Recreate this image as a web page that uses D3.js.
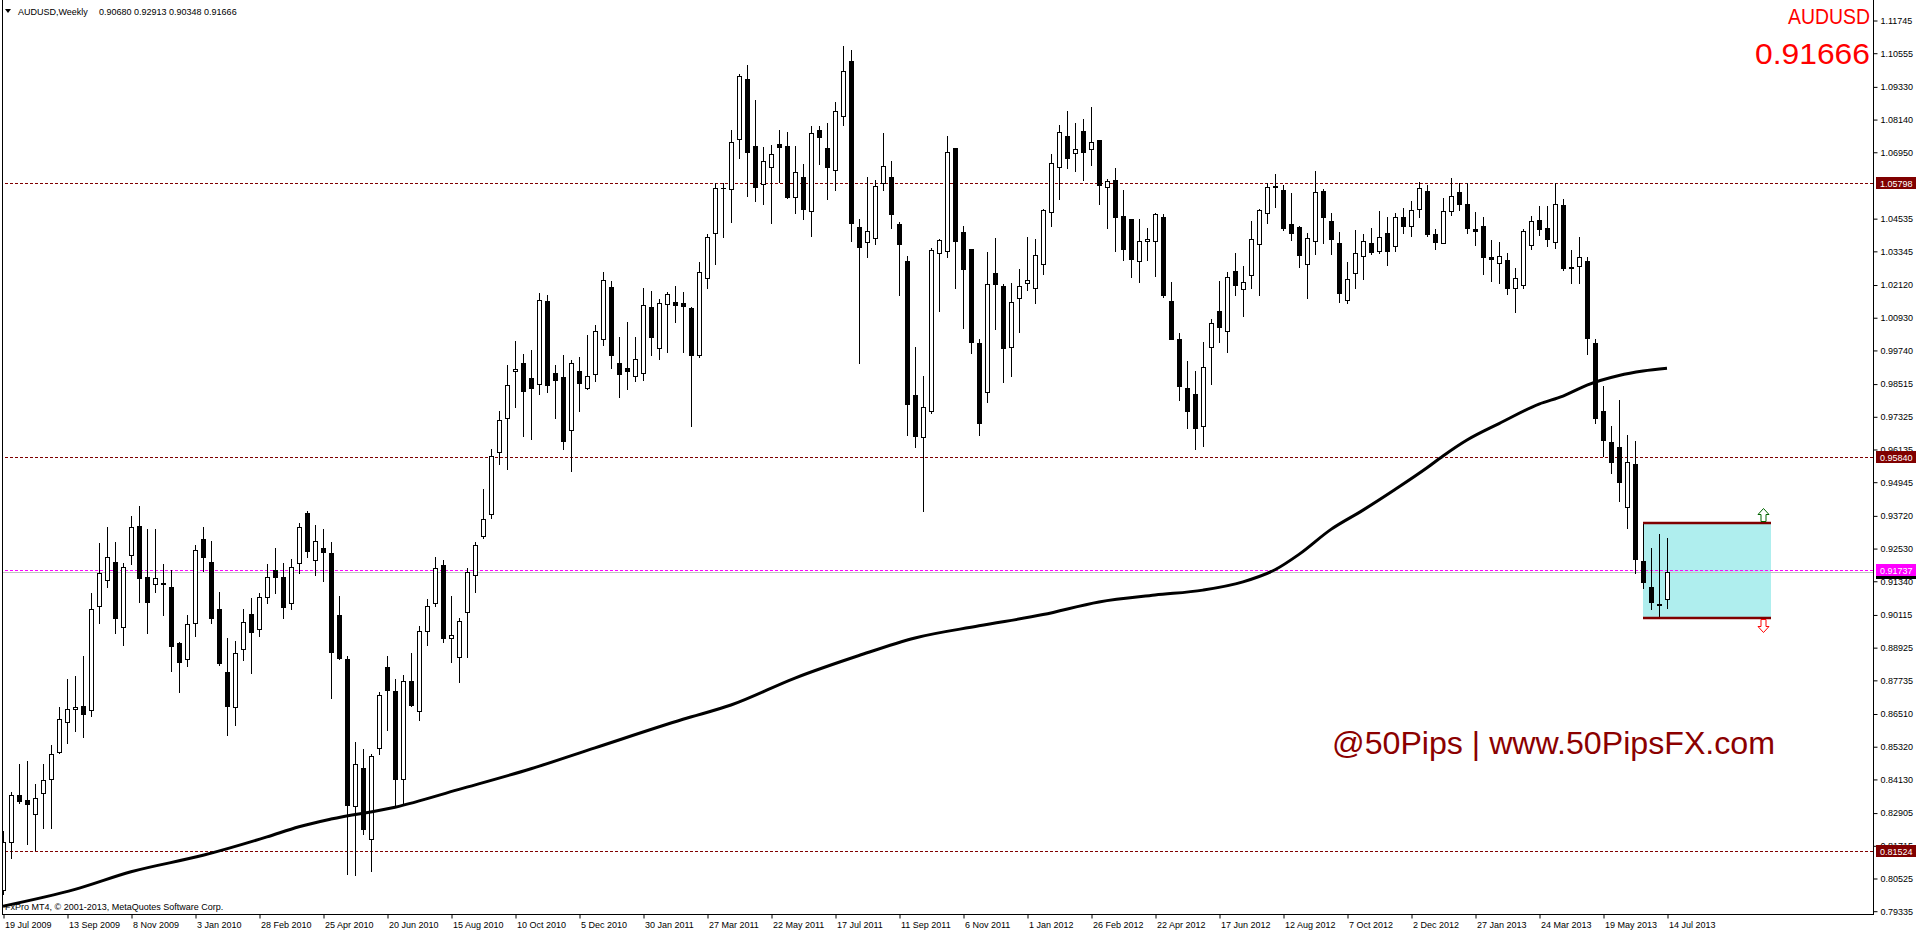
<!DOCTYPE html>
<html><head><meta charset="utf-8">
<script src="https://cdn.jsdelivr.net/npm/d3@7/dist/d3.min.js"></script>
<style>
html,body{margin:0;padding:0;background:#fff;overflow:hidden}
svg{display:block}
text{font-family:"Liberation Sans",Arial,sans-serif}
</style></head><body>
<svg id="c" width="1916" height="932"></svg>
<script>
// ---- DATA (weekly AUDUSD, 19 Jul 2009 .. 14 Jul 2013) ----
const open = [0.8010,0.8184,0.8354,0.8336,0.8284,0.8360,0.8411,0.8512,0.8619,0.8666,0.8680,0.8663,0.9042,0.9137,0.9204,0.8964,0.9226,0.9335,0.9146,0.9124,
0.9127,0.9110,0.8906,0.8848,0.8982,0.9285,0.9204,0.9033,0.8801,0.8673,0.8884,0.9012,0.8957,0.9076,0.9173,0.9149,0.9052,0.9197,0.9379,0.9210,
0.9255,0.9234,0.9009,0.8848,0.8315,0.8452,0.8195,0.8525,0.8820,0.8733,0.8413,0.8771,0.8659,0.8953,0.9052,0.9190,0.8927,0.8858,0.9019,0.9154,
0.9296,0.9377,0.9602,0.9727,0.9899,0.9926,0.9872,0.9851,1.0152,0.9891,0.9876,0.9682,0.9899,0.9836,0.9888,1.0014,1.0204,0.9925,0.9909,0.9880,
0.9891,1.0130,0.9981,1.0140,1.0149,1.0144,1.0126,0.9954,1.0234,1.0398,1.0565,1.0558,1.0740,1.0961,1.0715,1.0576,1.0638,1.0725,1.0715,1.0529,
1.0603,1.0478,1.0774,1.0707,1.0628,1.0827,1.1027,1.0420,1.0365,1.0380,1.0582,1.0603,1.0432,1.0298,0.9809,0.9657,0.9750,1.0325,1.0333,1.0707,
1.0402,1.0340,0.9998,0.9820,1.0253,1.0207,0.9986,1.0162,1.0219,1.0198,1.0285,1.0475,1.0638,1.0752,1.0689,1.0769,1.0704,1.0737,1.0566,1.0591,
1.0460,1.0450,1.0296,1.0369,1.0369,1.0458,1.0151,1.0012,0.9834,0.9812,0.9696,0.9983,1.0114,1.0042,1.0260,1.0194,1.0245,1.0358,1.0471,1.0572,
1.0555,1.0431,1.0421,1.0285,1.0369,1.0552,1.0443,1.0362,1.0154,1.0253,1.0314,1.0362,1.0335,1.0398,1.0351,1.0456,1.0424,1.0486,1.0551,1.0396,
1.0364,1.0478,1.0547,1.0504,1.0413,1.0424,1.0311,1.0289,1.0300,1.0198,1.0211,1.0355,1.0445,1.0418,1.0365,1.0500,1.0276,1.0278,1.0297,0.9998,
0.9753,0.9638,0.9619,0.9401,0.9559,0.9206,0.9110,0.9048,0.90680];
const high = [0.8223,0.8366,0.8469,0.8478,0.8394,0.8469,0.8536,0.8673,0.8775,0.8787,0.8860,0.9088,0.9270,0.9328,0.9275,0.9197,0.9369,0.9406,0.9321,0.9321,
0.9194,0.9173,0.8910,0.9009,0.9264,0.9328,0.9279,0.9092,0.8924,0.8916,0.9033,0.9070,0.9091,0.9195,0.9252,0.9197,0.9215,0.9343,0.9389,0.9337,
0.9321,0.9276,0.9078,0.8860,0.8548,0.8521,0.8505,0.8728,0.8860,0.8775,0.8791,0.8871,0.8970,0.9067,0.9220,0.9208,0.9078,0.8998,0.9180,0.9274,
0.9469,0.9615,0.9750,0.9918,1.0006,0.9960,0.9975,1.0182,1.0175,0.9918,0.9957,0.9937,0.9949,1.0029,1.0063,1.0259,1.0225,1.0021,1.0075,1.0021,
1.0201,1.0190,1.0159,1.0186,1.0205,1.0184,1.0130,1.0293,1.0396,1.0580,1.0580,1.0774,1.0977,1.1010,1.0885,1.0711,1.0719,1.0774,1.0766,1.0715,
1.0650,1.0788,1.0788,1.0800,1.0875,1.1079,1.1064,1.0449,1.0604,1.0592,1.0763,1.0662,1.0440,1.0316,0.9986,0.9880,1.0344,1.0379,1.0752,1.0707,
1.0425,1.0340,1.0014,1.0330,1.0380,1.0213,1.0219,1.0268,1.0386,1.0376,1.0488,1.0687,1.0792,1.0843,1.0800,1.0814,1.0858,1.0737,1.0596,1.0635,
1.0556,1.0450,1.0450,1.0418,1.0471,1.0467,1.0221,1.0036,0.9934,0.9897,1.0002,1.0088,1.0225,1.0258,1.0325,1.0279,1.0443,1.0487,1.0580,1.0614,
1.0574,1.0544,1.0425,1.0398,1.0625,1.0558,1.0471,1.0403,1.0294,1.0410,1.0395,1.0416,1.0479,1.0456,1.0471,1.0489,1.0516,1.0584,1.0574,1.0413,
1.0525,1.0600,1.0580,1.0580,1.0476,1.0456,1.0374,1.0365,1.0325,1.0271,1.0414,1.0461,1.0498,1.0498,1.0580,1.0523,1.0337,1.0384,1.0311,1.0012,
0.9843,0.9698,0.9792,0.9664,0.9642,0.9343,0.9252,0.9303,0.92913];
const low = [0.7995,0.8124,0.8324,0.8178,0.8154,0.8235,0.8235,0.8508,0.8542,0.8588,0.8566,0.8643,0.8981,0.9110,0.8943,0.8902,0.9194,0.9058,0.8945,0.9094,
0.9009,0.8807,0.8730,0.8825,0.8934,0.9170,0.8981,0.8827,0.8572,0.8609,0.8846,0.8799,0.8934,0.9054,0.9091,0.9000,0.9030,0.9163,0.9222,0.9155,
0.9134,0.8706,0.8848,0.8068,0.8065,0.8211,0.8077,0.8502,0.8590,0.8314,0.8318,0.8679,0.8628,0.8901,0.9042,0.8912,0.8840,0.8766,0.8858,0.9093,
0.9288,0.9362,0.9558,0.9541,0.9765,0.9661,0.9650,0.9814,0.9822,0.9725,0.9612,0.9535,0.9753,0.9830,0.9860,0.9991,0.9909,0.9803,0.9833,0.9860,
0.9863,0.9957,0.9940,0.9966,1.0075,0.9968,0.9699,0.9950,1.0201,1.0285,1.0386,1.0440,1.0674,1.0535,1.0517,1.0504,1.0437,1.0586,1.0525,1.0473,
1.0451,1.0390,1.0652,1.0524,1.0557,1.0794,1.0372,0.9926,1.0313,1.0359,1.0557,1.0418,1.0174,0.9665,0.9620,0.9387,0.9746,1.0117,1.0311,1.0201,
1.0052,0.9962,0.9663,0.9786,1.0049,0.9858,0.9880,1.0040,1.0192,1.0143,1.0251,1.0426,1.0524,1.0637,1.0626,1.0592,1.0647,1.0506,1.0419,1.0335,
1.0303,1.0240,1.0222,1.0301,1.0244,1.0168,1.0015,0.9793,0.9689,0.9612,0.9625,0.9849,1.0004,0.9968,1.0175,1.0099,1.0200,1.0175,1.0435,1.0495,
1.0409,1.0373,1.0274,1.0164,1.0322,1.0364,1.0324,1.0150,1.0146,1.0200,1.0233,1.0323,1.0328,1.0284,1.0335,1.0401,1.0390,1.0459,1.0390,1.0342,
1.0362,1.0466,1.0484,1.0401,1.0357,1.0251,1.0226,1.0219,1.0179,1.0113,1.0199,1.0342,1.0392,1.0353,1.0346,1.0265,1.0219,1.0219,0.9958,0.9709,
0.9589,0.9525,0.9425,0.9325,0.9161,0.9109,0.9031,0.8997,0.90348];
const close = [0.8184,0.8354,0.8334,0.8321,0.8342,0.8408,0.8502,0.8630,0.8668,0.8673,0.8648,0.9033,0.9161,0.9219,0.8997,0.9185,0.9328,0.9143,0.9058,0.9143,
0.9124,0.8898,0.8837,0.8975,0.9245,0.9222,0.9000,0.8833,0.8679,0.8872,0.8985,0.8949,0.9074,0.9149,0.9149,0.9037,0.9185,0.9328,0.9243,0.9279,
0.9240,0.8876,0.8852,0.8318,0.8469,0.8229,0.8498,0.8717,0.8737,0.8413,0.8771,0.8683,0.8953,0.9044,0.9179,0.8924,0.8936,0.8986,0.9165,0.9265,
0.9357,0.9589,0.9719,0.9848,0.9906,0.9825,0.9834,1.0156,0.9845,0.9865,0.9642,0.9926,0.9854,0.9879,1.0043,1.0229,0.9957,0.9888,0.9899,0.9940,
1.0136,1.0021,1.0144,1.0178,1.0136,1.0135,0.9954,1.0257,1.0384,1.0565,1.0562,1.0729,1.0970,1.0695,1.0568,1.0660,1.0686,1.0713,1.0531,1.0620,
1.0485,1.0765,1.0749,1.0638,1.0845,1.0990,1.0437,1.0350,1.0405,1.0570,1.0642,1.0467,1.0358,0.9777,0.9659,0.9766,1.0336,1.0373,1.0696,1.0371,
1.0270,1.0004,0.9708,1.0213,1.0213,0.9980,1.0147,1.0205,1.0227,1.0318,1.0483,1.0653,1.0766,1.0671,1.0704,1.0693,1.0729,1.0573,1.0587,1.0456,
1.0342,1.0306,1.0369,1.0376,1.0467,1.0175,1.0015,0.9841,0.9753,0.9691,0.9911,1.0071,1.0059,1.0238,1.0209,1.0222,1.0376,1.0482,1.0566,1.0568,
1.0416,1.0398,1.0318,1.0380,1.0547,1.0456,1.0376,1.0182,1.0231,1.0325,1.0369,1.0331,1.0384,1.0335,1.0456,1.0424,1.0482,1.0562,1.0396,1.0368,
1.0478,1.0533,1.0506,1.0419,1.0405,1.0313,1.0304,1.0317,1.0200,1.0234,1.0407,1.0443,1.0413,1.0379,1.0504,1.0273,1.0273,1.0313,1.0018,0.9725,
0.9646,0.9567,0.9492,0.9565,0.9215,0.9131,0.9058,0.9046,0.91666];

// moving average, read at sample bars
const maIdx = [0,9,16,25,33,37,41,49,57,66,74,85,91,99,107,114,122,130,137,144,150,155,159,162,166,170,174,178,180,183,187,192,195,198,202,205,208];
const maVal = [0.7950,0.8011,0.8075,0.8135,0.8202,0.8239,0.8267,0.8310,0.8375,0.8450,0.8526,0.8630,0.8682,0.8780,0.8862,0.8926,0.8970,0.9011,0.9057,0.9082,
0.9100,0.9130,0.9174,0.9230,0.9321,0.9391,0.9466,0.9545,0.9588,0.9646,0.9706,0.9777,0.9806,0.9846,0.9881,0.9897,0.9907];

const dateLabels = ["19 Jul 2009","13 Sep 2009","8 Nov 2009","3 Jan 2010","28 Feb 2010","25 Apr 2010","20 Jun 2010","15 Aug 2010","10 Oct 2010","5 Dec 2010",
"30 Jan 2011","27 Mar 2011","22 May 2011","17 Jul 2011","11 Sep 2011","6 Nov 2011","1 Jan 2012","26 Feb 2012","22 Apr 2012","17 Jun 2012",
"12 Aug 2012","7 Oct 2012","2 Dec 2012","27 Jan 2013","24 Mar 2013","19 May 2013","14 Jul 2013"];
const dateIdx = dateLabels.map((d,i)=>i*8);

const yTicks = [1.11745,1.10555,1.09330,1.08140,1.06950,1.04535,1.03345,1.02120,1.00930,0.99740,0.98515,0.97325,0.96135,0.94945,0.93720,0.92530,
0.91340,0.90115,0.88925,0.87735,0.86510,0.85320,0.84130,0.82905,0.81715,0.80525,0.79335];

const redLevels = [1.05798,0.95840,0.81524];
const pinkLevel = 0.91737;
const bidPrice = 0.91666;
const boxTop = 0.9343, boxBottom = 0.8997, boxFrom = 205, boxTo = 221, arrowBar = 220;
const symbol = "AUDUSD", timeframe = "Weekly";
const lastOHLC = [0.90680,0.92913,0.90348,0.91666];

// ---- CHART ----
const W = 1916, H = 932;
const plotL = 2, plotR = 1873, plotB = 914;
const svg = d3.select("#c");
const x = d3.scaleLinear().domain([0,208]).range([3,1667]);
const y = d3.scaleLinear().domain([0.79335,1.11745]).range([910.7,20]);
const ry = v => Math.round(y(v));

svg.append("rect").attr("width",W).attr("height",H).attr("fill","#fff");
svg.append("defs").append("clipPath").attr("id","pc").append("rect")
  .attr("x",plotL+1).attr("y",0).attr("width",plotR-plotL-1).attr("height",plotB);
const g = svg.append("g").attr("clip-path","url(#pc)");

// box (background)
g.append("rect").attr("x",x(boxFrom)).attr("y",ry(boxTop)).attr("width",x(boxTo)-x(boxFrom))
  .attr("height",ry(boxBottom)-ry(boxTop)).attr("fill","#AFEEEE");

// levels
g.append("line").attr("x1",plotL).attr("x2",plotR).attr("y1",ry(bidPrice)+0.5).attr("y2",ry(bidPrice)+0.5)
  .attr("stroke","#C0C0C0").attr("stroke-width",1);
redLevels.forEach(v=>{
  g.append("line").attr("x1",plotL+3).attr("x2",plotR).attr("y1",ry(v)+0.5).attr("y2",ry(v)+0.5)
   .attr("stroke","#800000").attr("stroke-width",1).attr("stroke-dasharray","3,2");
});
g.append("line").attr("x1",plotL+3).attr("x2",plotR).attr("y1",ry(pinkLevel)+0.5).attr("y2",ry(pinkLevel)+0.5)
  .attr("stroke","#FF00FF").attr("stroke-width",1).attr("stroke-dasharray","3,2");

// candles
const bars = d3.range(open.length);
const cg = g.append("g");
cg.selectAll("line.w").data(bars).join("line")
  .attr("x1",i=>x(i)+0.5).attr("x2",i=>x(i)+0.5)
  .attr("y1",i=>ry(high[i])).attr("y2",i=>ry(low[i])+1)
  .attr("stroke","#000").attr("stroke-width",1);
cg.selectAll("rect.b").data(bars).join("rect")
  .attr("x",i=>x(i)-1.5).attr("width",4)
  .attr("y",i=>Math.min(ry(open[i]),ry(close[i]))+0.5)
  .attr("height",i=>Math.max(0.01,Math.abs(ry(open[i])-ry(close[i]))))
  .attr("fill",i=>close[i]>=open[i]?"#fff":"#000")
  .attr("stroke","#000").attr("stroke-width",1);

// moving average
g.append("path").datum(maIdx.map((d,i)=>[d,maVal[i]]))
  .attr("d",d3.line().x(d=>x(d[0])).y(d=>y(d[1])).curve(d3.curveMonotoneX))
  .attr("fill","none").attr("stroke","#000").attr("stroke-width",3).attr("stroke-linejoin","round");

// box top/bottom lines
[boxTop,boxBottom].forEach(v=>{
  g.append("line").attr("x1",x(boxFrom)).attr("x2",x(boxTo)).attr("y1",ry(v)).attr("y2",ry(v))
   .attr("stroke","#800000").attr("stroke-width",2.5);
});
// arrows
const ax = Math.round(x(arrowBar))+0.5;
const upT = ry(boxTop)-14.5;
g.append("path").attr("d",`M${ax},${upT} L${ax+5.5},${upT+6} L${ax+2.5},${upT+6} L${ax+2.5},${upT+13} L${ax-2.5},${upT+13} L${ax-2.5},${upT+6} L${ax-5.5},${upT+6} Z`)
  .attr("fill","#fff").attr("stroke","#006400").attr("stroke-width",1);
const dnT = ry(boxBottom)+1.5;
g.append("path").attr("d",`M${ax-2.5},${dnT} L${ax+2.5},${dnT} L${ax+2.5},${dnT+7} L${ax+5.5},${dnT+7} L${ax},${dnT+13} L${ax-5.5},${dnT+7} L${ax-2.5},${dnT+7} Z`)
  .attr("fill","#fff").attr("stroke","#FF0000").attr("stroke-width",1);

// frame
svg.append("line").attr("x1",plotL+0.5).attr("x2",plotL+0.5).attr("y1",0).attr("y2",plotB+1).attr("stroke","#000");
svg.append("line").attr("x1",plotR+0.5).attr("x2",plotR+0.5).attr("y1",0).attr("y2",plotB+1).attr("stroke","#000");
svg.append("line").attr("x1",plotL).attr("x2",plotR+1).attr("y1",plotB+0.5).attr("y2",plotB+0.5).attr("stroke","#000");

// right axis
const yAxis = d3.axisRight(y).tickValues(yTicks).tickFormat(d3.format(".5f")).tickSize(4).tickPadding(3);
const ya = svg.append("g").attr("transform",`translate(${plotR+0.5},0.5)`).call(yAxis);
ya.select(".domain").remove();
ya.selectAll("text").attr("font-size","9px").attr("font-family","'Liberation Sans',Arial,sans-serif").attr("fill","#000");
ya.selectAll("line").attr("stroke","#000");

// bottom axis
const xAxis = d3.axisBottom(x).tickValues(dateIdx).tickFormat((d,i)=>dateLabels[i]).tickSize(4);
const xa = svg.append("g").attr("transform",`translate(0.5,${plotB+0.5})`).call(xAxis);
xa.select(".domain").remove();
xa.selectAll("text").attr("font-size","9px").attr("font-family","'Liberation Sans',Arial,sans-serif")
  .attr("text-anchor","start").attr("dx","1").attr("y",13).attr("dy","0").attr("fill","#000");
xa.selectAll("line").attr("stroke","#000");

// price label boxes
function priceBox(v, fill, fg){
  const yy = y(v);
  svg.append("rect").attr("x",plotR+3).attr("y",Math.round(yy)-6).attr("width",W-plotR-3).attr("height",12).attr("fill",fill);
  svg.append("text").attr("x",plotR+7).attr("y",Math.round(yy)+3.5).attr("font-size","9px").attr("fill",fg).text(d3.format(".5f")(v));
}
svg.append("rect").attr("x",plotR+3).attr("y",Math.round(y(bidPrice))-6).attr("width",W-plotR-3).attr("height",13).attr("fill","#000");
redLevels.forEach(v=>priceBox(v,"#800000","#fff"));
priceBox(pinkLevel,"#FF00FF","#fff");

// header
svg.append("path").attr("d","M5,9 L11,9 L8,13 Z").attr("fill","#000");
svg.append("text").attr("x",18).attr("y",15).attr("font-size","9px").attr("fill","#000").text(symbol+","+timeframe);
svg.append("text").attr("x",99).attr("y",15).attr("font-size","9px").attr("fill","#000")
  .text(lastOHLC.map(d3.format(".5f")).join(" "));

// big symbol / price
svg.append("text").attr("x",plotR-3).attr("y",23.5).attr("text-anchor","end").attr("font-size","22px")
  .attr("fill","#FF0000").attr("textLength",82).attr("lengthAdjust","spacingAndGlyphs").text(symbol);
svg.append("text").attr("x",plotR-3).attr("y",63.5).attr("text-anchor","end").attr("font-size","30px")
  .attr("fill","#FF0000").attr("textLength",115).attr("lengthAdjust","spacingAndGlyphs").text(d3.format(".5f")(lastOHLC[3]));

// watermark
svg.append("text").attr("x",1332).attr("y",754).attr("font-size","32px").attr("fill","#8B0000")
  .attr("textLength",443).attr("lengthAdjust","spacingAndGlyphs").text("@50Pips | www.50PipsFX.com");

// copyright
svg.append("text").attr("x",5).attr("y",910).attr("font-size","9px").attr("fill","#000")
  .text("FxPro MT4, \u00A9 2001-2013, MetaQuotes Software Corp.");
</script></body></html>
